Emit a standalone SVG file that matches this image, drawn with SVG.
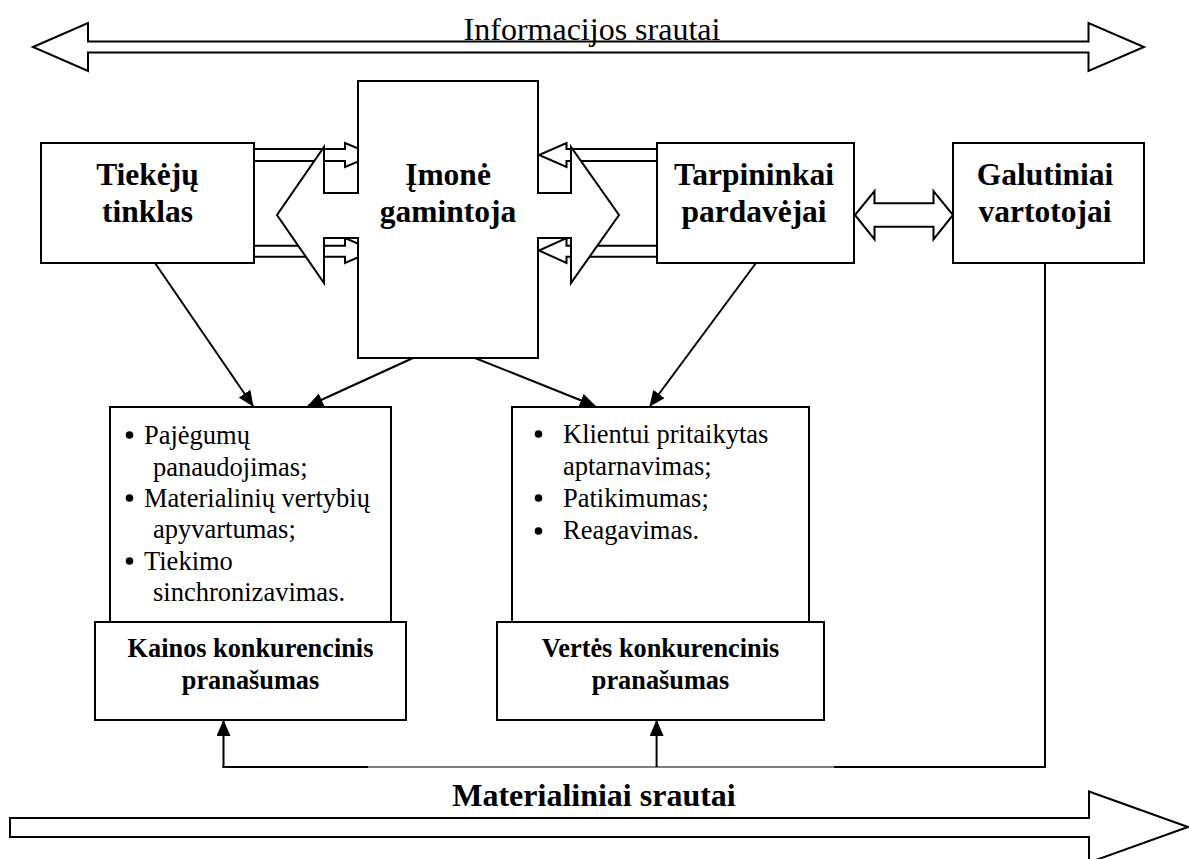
<svg xmlns="http://www.w3.org/2000/svg" width="1189" height="859" viewBox="0 0 1189 859">
  <style>
    .shape { fill: #fff; stroke: #000; stroke-width: 2; stroke-linejoin: miter; }
    .line { fill: none; stroke: #000; stroke-width: 2; }
    .thin { fill: none; stroke: #000; stroke-width: 1.2; }
    .title { font-family: "Liberation Serif", "Times New Roman", serif; font-weight: bold; font-size: 31.5px; text-anchor: middle; fill: #000; }
    .sub { font-family: "Liberation Serif", "Times New Roman", serif; font-weight: bold; font-size: 26.3px; text-anchor: middle; fill: #000; }
    .item { font-family: "Liberation Serif", "Times New Roman", serif; font-size: 26.5px; fill: #000; }
    .flow { font-family: "Liberation Serif", "Times New Roman", serif; font-size: 32px; text-anchor: middle; fill: #000; }
    .flowb { font-family: "Liberation Serif", "Times New Roman", serif; font-weight: bold; font-size: 32px; text-anchor: middle; fill: #000; }
  </style>
  <defs>
    <marker id="head" viewBox="0 0 16 14" refX="15" refY="7" markerWidth="16" markerHeight="14" markerUnits="userSpaceOnUse" orient="auto">
      <path d="M0,0 L16,7 L0,14 Z" fill="#000"/>
    </marker>
  </defs>

  <rect width="1189" height="859" fill="#fff"/>

  <!-- information flow band -->
  <g id="info-flow">
    <path class="shape" d="M33,47 L88,23 V41.5 H1088.5 V23 L1144,47 L1088.5,71 V52.5 H88 V71 Z"/>
    <text class="flow" x="592" y="40">Informacijos srautai</text>
  </g>

  <!-- material flow band -->
  <g id="material-flow">
    <path class="shape" d="M10,818 H1089 V791.5 L1188,827 L1089,862.5 V837 H10 Z"/>
    <text class="flowb" x="594" y="806">Materialiniai srautai</text>
  </g>

  <g id="connectors">
    <!-- thin arrows from the suppliers to the manufacturer -->
    <path class="shape" d="M254,149 H345 V143 L374,155 L345,167 V161 H254 Z"/>
    <path class="shape" d="M254,245.7 H345 V238 L374,250.5 L345,263 V256.7 H254 Z"/>
    <!-- thin arrows from the intermediaries to the manufacturer -->
    <path class="shape" d="M657,149 H566.5 V143 L539,155 L566.5,167 V161 H657 Z"/>
    <path class="shape" d="M657,245.7 H566.5 V238 L539,250.5 L566.5,263 V256.7 H657 Z"/>
    <!-- double arrow intermediaries / final consumers -->
    <path class="shape" d="M855,215 L874.5,191 V203.3 H933.5 V191 L953,215 L933.5,239.3 V226.7 H874.5 V239.3 Z"/>
    <!-- links to the advantage boxes -->
    <line class="line" x1="155" y1="263" x2="253" y2="406" marker-end="url(#head)"/>
    <line class="line" x1="413" y1="358" x2="308" y2="406" marker-end="url(#head)"/>
    <line class="line" x1="475" y1="358" x2="595" y2="406" marker-end="url(#head)"/>
    <line class="line" x1="756" y1="263" x2="650" y2="406" marker-end="url(#head)"/>
    <!-- feedback from final consumers -->
    <polyline class="line" points="1045,263 1045,767 834,767"/>
    <line class="thin" x1="834" y1="767" x2="368" y2="767"/>
    <line class="line" x1="368" y1="767" x2="222.5" y2="767"/>
    <line class="line" x1="223.5" y1="768" x2="223.5" y2="721" marker-end="url(#head)"/>
    <line class="line" x1="656.6" y1="767" x2="656.6" y2="721" marker-end="url(#head)"/>
  </g>

  <g id="tiekeju-tinklas">
    <rect class="shape" x="41" y="143" width="213" height="120"/>
    <text class="title" x="147.5" y="185">Tiekėjų</text>
    <text class="title" x="147.5" y="222">tinklas</text>
  </g>

  <g id="imone-gamintoja">
    <path class="shape" d="M358,81 H538 V193 H571 V147 L619,215 L571,283 V238 H538 V358 H358 V238 H324 V283 L277,215 L324,147 V193 H358 Z"/>
    <text class="title" x="448" y="185">Įmonė</text>
    <text class="title" x="448" y="222">gamintoja</text>
  </g>

  <g id="tarpininkai">
    <rect class="shape" x="657" y="143" width="197" height="120"/>
    <text class="title" x="754" y="185">Tarpininkai</text>
    <text class="title" x="754" y="222">pardavėjai</text>
  </g>

  <g id="galutiniai">
    <rect class="shape" x="953" y="143" width="191" height="120"/>
    <text class="title" x="1045" y="185">Galutiniai</text>
    <text class="title" x="1045" y="222">vartotojai</text>
  </g>

  <g id="kainos-veiksniai">
    <rect class="shape" x="110" y="407" width="281" height="215"/>
    <circle cx="129.5" cy="435" r="3.8"/>
    <circle cx="129.5" cy="498" r="3.8"/>
    <circle cx="129.5" cy="561" r="3.8"/>
    <text class="item" x="144" y="444">Pajėgumų</text>
    <text class="item" x="153" y="476">panaudojimas;</text>
    <text class="item" x="144" y="507">Materialinių vertybių</text>
    <text class="item" x="153" y="538">apyvartumas;</text>
    <text class="item" x="144" y="570">Tiekimo</text>
    <text class="item" x="153" y="601">sinchronizavimas.</text>
  </g>

  <g id="kainos-pranasumas">
    <rect class="shape" x="95" y="622" width="311" height="98"/>
    <text class="sub" x="250.5" y="657">Kainos konkurencinis</text>
    <text class="sub" x="250.5" y="689">pranašumas</text>
  </g>

  <g id="vertes-veiksniai">
    <rect class="shape" x="512" y="407" width="297" height="215"/>
    <circle cx="538.5" cy="434" r="3.8"/>
    <circle cx="538.5" cy="498" r="3.8"/>
    <circle cx="538.5" cy="531" r="3.8"/>
    <text class="item" x="563" y="443">Klientui pritaikytas</text>
    <text class="item" x="563" y="475">aptarnavimas;</text>
    <text class="item" x="563" y="507">Patikimumas;</text>
    <text class="item" x="563" y="539">Reagavimas.</text>
  </g>

  <g id="vertes-pranasumas">
    <rect class="shape" x="497" y="622" width="327" height="98"/>
    <text class="sub" x="660.5" y="657">Vertės konkurencinis</text>
    <text class="sub" x="660.5" y="689">pranašumas</text>
  </g>
</svg>
